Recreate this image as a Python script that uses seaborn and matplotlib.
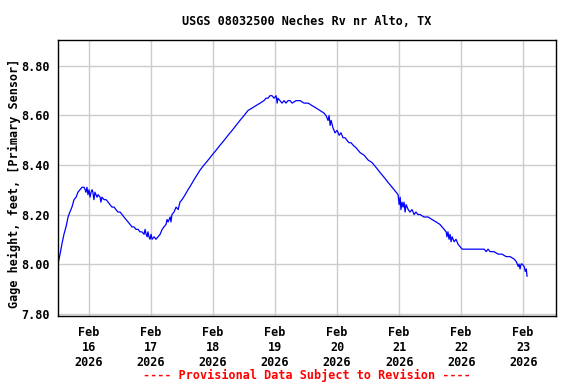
import matplotlib
matplotlib.use("Agg")
import matplotlib.pyplot as plt
import matplotlib.dates as mdates
import seaborn as sns
import pandas as pd
import numpy as np

# gage readings: hours after 2026-02-15 12:00 and height in feet
hours = [0, 0.8, 1.5, 2.3, 3.1, 3.9, 4.6, 5.4, 6.2, 7.0, 7.7, 8.5, 9.3, 10.1, 10.5,
         10.8, 11.2, 11.6, 12.0, 12.4, 12.8, 13.2, 13.5, 13.9, 14.3, 14.7, 15.1, 15.5,
         16.3, 16.6, 17.0, 17.8, 18.6, 19.4, 20.1, 20.9, 21.7, 22.4, 23.2, 24.0, 24.8,
         25.5, 26.3, 27.1, 27.9, 28.6, 29.4, 30.2, 31.0, 31.7, 32.5, 33.3, 33.7, 34.1,
         34.5, 34.8, 35.2, 35.6, 36.0, 36.4, 37.2, 37.9, 38.7, 39.5, 40.3, 41.0, 41.8,
         42.2, 42.6, 43.4, 43.7, 44.1, 44.9, 45.7, 46.5, 47.2, 48.0, 49.2, 50.3, 51.5,
         52.6, 53.8, 55.0, 56.5, 58.1, 59.6, 61.2, 62.7, 64.3, 65.8, 67.4, 68.9, 70.4,
         72.0, 73.5, 75.1, 76.6, 78.2, 79.7, 80.5, 81.3, 82.0, 82.8, 83.6, 84.4, 84.8,
         85.1, 85.9, 86.7, 87.5, 88.2, 89.0, 89.8, 90.6, 92.1, 93.7, 95.2, 96.8, 98.3,
         99.9, 101.4, 102.9, 103.7, 104.5, 104.9, 105.3, 105.7, 106.4, 107.2, 108.0,
         108.8, 109.5, 110.3, 111.1, 111.8, 112.6, 113.4, 114.2, 115.3, 116.9, 118.4,
         120.0, 121.5, 123.1, 124.6, 126.2, 127.7, 129.3, 130.8, 131.6, 132.0, 132.4,
         132.7, 133.1, 133.5, 133.9, 134.3, 134.7, 135.5, 136.2, 137.0, 137.8, 138.5,
         139.3, 140.1, 141.6, 143.2, 144.7, 146.3, 147.8, 148.6, 149.4, 150.2, 150.5,
         150.9, 151.3, 151.7, 152.1, 152.5, 153.3, 154.0, 154.8, 155.6, 156.4, 157.1,
         158.7, 160.2, 161.8, 163.3, 164.9, 165.7, 166.4, 167.2, 168.7, 170.3, 171.8,
         173.4, 174.9, 176.5, 177.3, 178.1, 178.4, 178.8, 179.2, 179.6, 180.4, 180.8,
         181.2, 181.5]

gage_ft = [8.00, 8.04, 8.08, 8.12, 8.15, 8.19, 8.21, 8.23, 8.26, 8.27, 8.29, 8.30, 8.31, 8.31, 8.30,
           8.29, 8.31, 8.28, 8.30, 8.27, 8.29, 8.30, 8.29, 8.26, 8.29, 8.28, 8.27, 8.28,
           8.27, 8.25, 8.27, 8.26, 8.26, 8.25, 8.24, 8.23, 8.23, 8.22, 8.21, 8.21, 8.20,
           8.19, 8.18, 8.17, 8.16, 8.15, 8.15, 8.14, 8.14, 8.13, 8.13, 8.12, 8.14, 8.12,
           8.11, 8.13, 8.11, 8.10, 8.12, 8.10, 8.11, 8.10, 8.11, 8.12, 8.14, 8.15, 8.16,
           8.18, 8.17, 8.19, 8.17, 8.20, 8.21, 8.23, 8.22, 8.25, 8.26, 8.28, 8.30, 8.32,
           8.34, 8.36, 8.38, 8.40, 8.42, 8.44, 8.46, 8.48, 8.50, 8.52, 8.54, 8.56, 8.58,
           8.60, 8.62, 8.63, 8.64, 8.65, 8.66, 8.67, 8.67, 8.68, 8.68, 8.67, 8.68, 8.65,
           8.67, 8.66, 8.65, 8.66, 8.65, 8.66, 8.66, 8.65, 8.66, 8.66, 8.65, 8.65, 8.64,
           8.63, 8.62, 8.61, 8.60, 8.58, 8.60, 8.56, 8.58, 8.55, 8.53, 8.54,
           8.52, 8.53, 8.51, 8.51, 8.50, 8.49, 8.49, 8.48, 8.47, 8.45, 8.44,
           8.42, 8.41, 8.39, 8.37, 8.35, 8.33, 8.31, 8.29, 8.28, 8.24, 8.27,
           8.22, 8.25, 8.23, 8.25, 8.21, 8.24, 8.22, 8.21, 8.22, 8.20, 8.21,
           8.20, 8.20, 8.19, 8.19, 8.18, 8.17, 8.16, 8.15, 8.14, 8.13, 8.11,
           8.13, 8.10, 8.12, 8.09, 8.11, 8.09, 8.10, 8.08, 8.07, 8.06, 8.06,
           8.06, 8.06, 8.06, 8.06, 8.06, 8.05, 8.06, 8.05, 8.05, 8.04, 8.04,
           8.03, 8.03, 8.02, 8.01, 7.99, 8.00, 7.98, 8.00, 8.00, 7.99, 7.97,
           7.98, 7.95]

y_ticks = [7.80, 8.00, 8.20, 8.40, 8.60, 8.80]

start = pd.Timestamp("2026-02-15 12:00")
df = pd.DataFrame({
    "time": start + pd.to_timedelta(hours, unit="h"),
    "gage": gage_ft,
})

sns.set_style("whitegrid")
plt.rcParams["font.family"] = ["DejaVu Sans Mono"]
plt.rcParams["font.weight"] = "bold"
plt.rcParams["text.color"] = "black"
plt.rcParams["axes.labelcolor"] = "black"

fig = plt.figure(figsize=(5.76, 3.84), dpi=100)
ax = fig.add_axes([58 / 576, 1 - 316 / 384, 498 / 576, 276 / 384])

sns.lineplot(data=df, x="time", y="gage", ax=ax, color="#0000ff", linewidth=0.9)

ax.set_xlim(start, start + pd.Timedelta(hours=192.7))
ax.set_ylim(7.79, 8.905)
ax.set_yticks(y_ticks)
ax.set_yticklabels([f"{v:.2f}" for v in y_ticks])

ax.xaxis.set_major_locator(mdates.DayLocator())
ax.xaxis.set_major_formatter(mdates.DateFormatter("%b\n%d\n%Y"))
for lbl in ax.get_xticklabels():
    lbl.set_multialignment("center")
    lbl.set_fontweight("bold")
for lbl in ax.get_yticklabels():
    lbl.set_fontweight("bold")

ax.tick_params(axis="both", length=0, labelsize=8.5, colors="black")
ax.tick_params(axis="x", pad=7)
ax.tick_params(axis="y", pad=6)

ax.grid(True, color="#cccccc", linewidth=1)
for s in ax.spines.values():
    s.set_color("black")
    s.set_linewidth(1)

ax.set_xlabel("")
ax.set_ylabel("Gage height, feet, [Primary Sensor]", fontsize=8.5,
              fontweight="bold", color="black")
ax.yaxis.set_label_coords(-0.075, 0.48)
ax.set_title("USGS 08032500 Neches Rv nr Alto, TX", fontsize=8.5,
             fontweight="bold", color="black", pad=11)

ax.text(0.5, -0.215, "---- Provisional Data Subject to Revision ----",
        transform=ax.transAxes, ha="center", va="center", color="red",
        fontsize=8.5, fontweight="bold")

fig.savefig("out.png", dpi=100)
